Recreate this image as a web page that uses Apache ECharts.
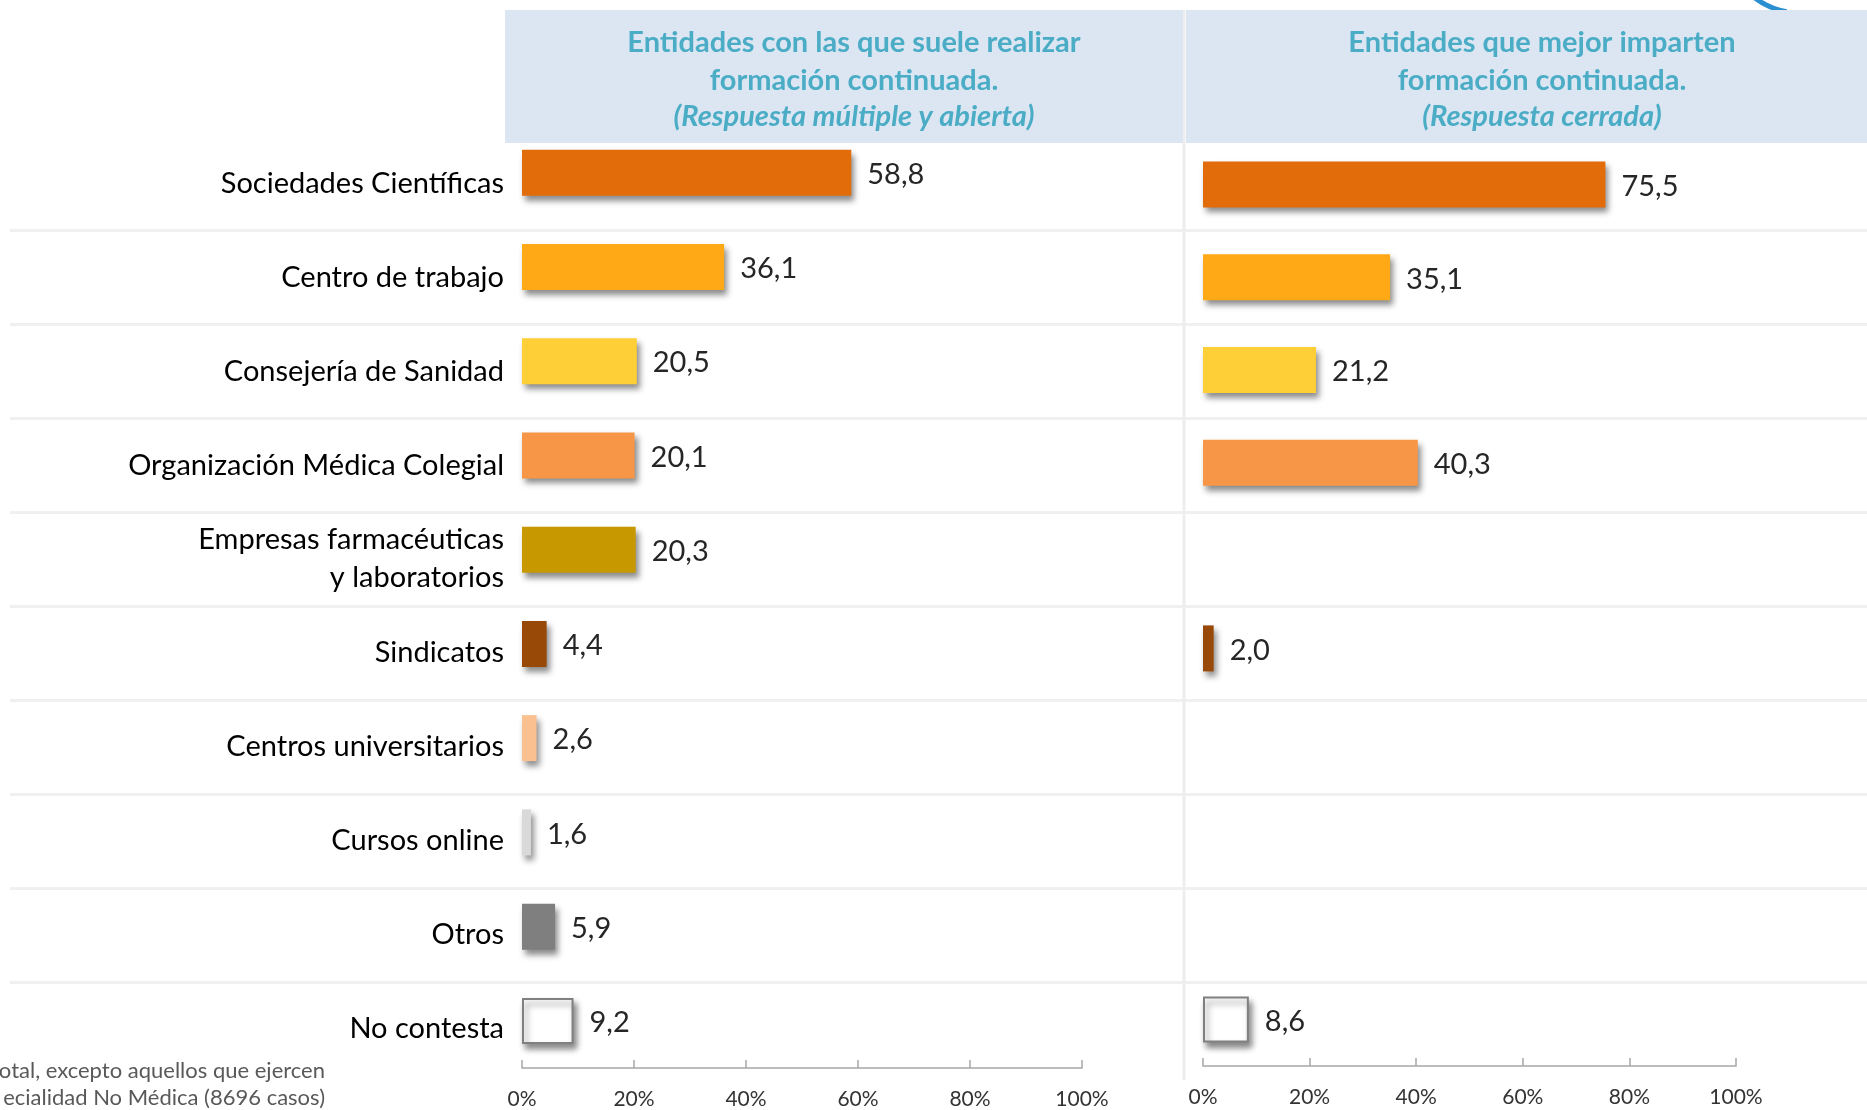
<!DOCTYPE html>
<html>
<head>
<meta charset="utf-8">
<script src="https://cdn.jsdelivr.net/npm/echarts@6/dist/echarts.min.js"></script>
<style>
  html, body { margin: 0; padding: 0; background: #ffffff; }
  #chart { width: 1867px; height: 1110px; }
</style>
</head>
<body>
<div id="chart"></div>
<script>
// ---- data ----
const categories = [
  'Sociedades Científicas',
  'Centro de trabajo',
  'Consejería de Sanidad',
  'Organización Médica Colegial',
  'Empresas farmacéuticas\ny laboratorios',
  'Sindicatos',
  'Centros universitarios',
  'Cursos online',
  'Otros',
  'No contesta'
];
const suelenRealizar = [58.8, 36.1, 20.5, 20.1, 20.3, 4.4, 2.6, 1.6, 5.9, 9.2];
const mejorImparten  = [75.5, 35.1, 21.2, 40.3, null, 2.0, null, null, null, 8.6];
const xTicks = [0, 20, 40, 60, 80, 100];
const leftTitle = ['Entidades con las que suele realizar', 'formación continuada.', '(Respuesta múltiple y abierta)'];
const rightTitle = ['Entidades que mejor imparten', 'formación continuada.', '(Respuesta cerrada)'];
const footnote = ['otal, excepto aquellos que ejercen', 'ecialidad No Médica (8696 casos)'];

// ---- styles ----
const barColors = ['#E36C0A', '#FFA916', '#FFCF37', '#F79646', '#C89800', '#984807', '#FAC090', '#D9D9D9', '#7F7F7F', '#FFFFFF'];
const FONT = 'Lato, "Open Sans", sans-serif';
const titleColor = '#4BACC6';

function fmt(v) { return v == null ? '' : v.toFixed(1).replace('.', ','); }

function barData(values) {
  return values.map((v, i) => ({
    value: v,
    itemStyle: {
      color: barColors[i],
      borderColor: barColors[i] === '#FFFFFF' ? '#808080' : barColors[i],
      borderWidth: barColors[i] === '#FFFFFF' ? 2 : 0
    }
  }));
}

const chart = echarts.init(document.getElementById('chart'), null, { renderer: 'canvas' });

const valueAxisCommon = {
  type: 'value',
  min: xTicks[0],
  max: xTicks[xTicks.length - 1],
  interval: xTicks[1] - xTicks[0],
  axisLine: { show: true, lineStyle: { color: '#a6a6a6', width: 1.5 } },
  axisTick: { show: true, inside: true, length: 8, lineStyle: { color: '#a6a6a6', width: 1.5 } },
  splitLine: { show: false },
  axisLabel: { formatter: '{value}%', fontFamily: FONT, fontSize: 21, color: '#333333', margin: 21 }
};

const seriesCommon = {
  type: 'bar',
  barWidth: 46,
  itemStyle: { shadowColor: 'rgba(0,0,0,0.45)', shadowBlur: 6, shadowOffsetX: 3, shadowOffsetY: 5 },
  label: {
    show: true, position: 'right', distance: 16, offset: [0, 2],
    fontFamily: FONT, fontSize: 29, color: '#262626',
    formatter: p => fmt(p.value)
  },
  emphasis: { disabled: true },
  animation: false
};

function titleTexts(lines, cx) {
  return lines.map((t, i) => ({
    type: 'text', z: 20,
    style: {
      text: t, x: cx, y: [43, 81, 117][i],
      textAlign: 'center', textVerticalAlign: 'middle',
      font: (i === 2 ? 'italic bold ' : 'bold ') + '29px ' + FONT,
      fill: titleColor
    }
  }));
}

const option = {
  backgroundColor: '#ffffff',
  animation: false,
  grid: [
    { left: 10, right: 0, top: 136.4, height: 939.4 },
    { left: 522, width: 560, top: 125.5, height: 943 },
    { left: 1203, width: 533, top: 138, height: 928 }
  ],
  xAxis: [
    { gridIndex: 0, type: 'value', min: 0, max: 1, show: false },
    Object.assign({ gridIndex: 1 }, valueAxisCommon),
    Object.assign({ gridIndex: 2 }, valueAxisCommon)
  ],
  yAxis: [
    {
      gridIndex: 0, type: 'category', data: categories, inverse: true,
      offset: -494,
      axisLine: { show: false }, axisTick: { show: false },
      splitLine: { show: true, showMinLine: false, showMaxLine: false, lineStyle: { color: '#f0f0f0', width: 3 } },
      axisLabel: { margin: 0, fontFamily: FONT, fontSize: 29, color: '#000000', lineHeight: 38, align: 'right' }
    },
    { gridIndex: 1, type: 'category', data: categories, inverse: true, show: false },
    { gridIndex: 2, type: 'category', data: categories, inverse: true, show: false }
  ],
  series: [
    Object.assign({}, seriesCommon, { name: 'Suele realizar', xAxisIndex: 1, yAxisIndex: 1, data: barData(suelenRealizar) }),
    Object.assign({}, seriesCommon, { name: 'Mejor imparten', xAxisIndex: 2, yAxisIndex: 2, data: barData(mejorImparten) })
  ],
  graphic: [
    { type: 'line', z: 1, shape: { x1: 1184, y1: 10, x2: 1184, y2: 1080 }, style: { stroke: '#eeeeee', lineWidth: 3 } },
    { type: 'arc', z: 5, shape: { cx: 1800, cy: -62, r: 75, startAngle: 1.75, endAngle: 2.3, clockwise: true }, style: { stroke: '#2A8FD0', lineWidth: 5, fill: null } },
    { type: 'rect', z: 10, shape: { x: 505, y: 10, width: 678, height: 133 }, style: { fill: '#DCE6F2' } },
    { type: 'rect', z: 10, shape: { x: 1186, y: 10, width: 681, height: 133 }, style: { fill: '#DCE6F2' } }
  ]
    .concat(titleTexts(leftTitle, 854))
    .concat(titleTexts(rightTitle, 1542))
    .concat(footnote.map((t, i) => ({
      type: 'text', z: 20,
      style: { text: t, x: 325, y: [1071, 1098][i], textAlign: 'right', textVerticalAlign: 'middle', font: '22px ' + FONT, fill: '#595959' }
    })))
};

chart.setOption(option);
</script>
</body>
</html>
